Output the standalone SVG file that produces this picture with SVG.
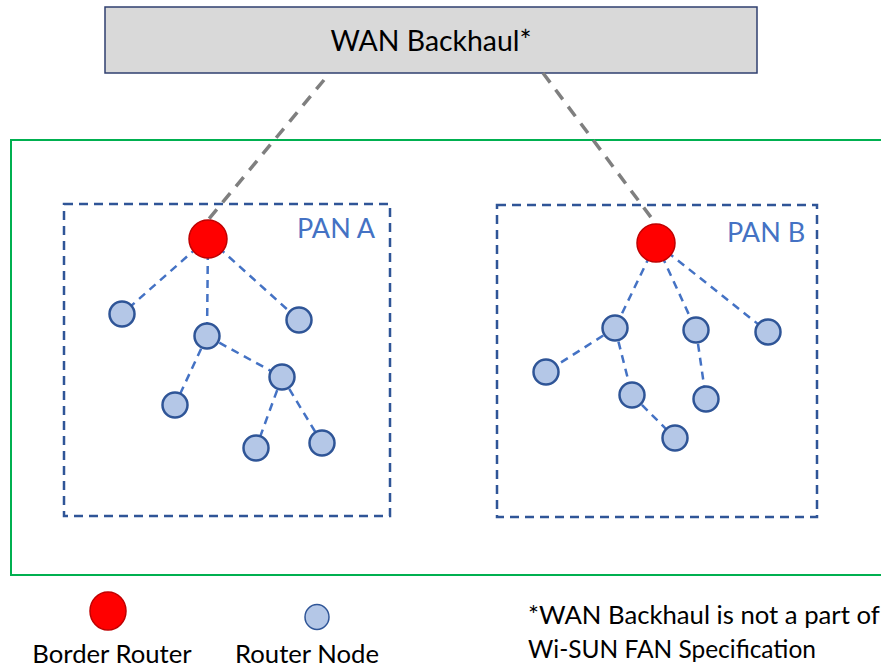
<svg xmlns="http://www.w3.org/2000/svg" width="881" height="668" viewBox="0 0 881 668">
<style>
text{font-family:Lato,"Open Sans","Liberation Sans",sans-serif}
.br{fill:#ff0000;stroke:#c00000;stroke-width:1.5}
.rn{fill:#b4c7e7;stroke:#2f5597;stroke-width:2.5}
.pan{fill:none;stroke:#2f5597;stroke-width:2.5;stroke-dasharray:9 6}
.edge{fill:none;stroke:#4472c4;stroke-width:2.5;stroke-dasharray:8 6}
.wan{fill:none;stroke:#7f7f7f;stroke-width:3.5;stroke-dasharray:12 9}
.lbl{fill:#4472c4;font-size:27px}
.blk{fill:#000;font-size:25.7px}
</style>
<rect width="881" height="668" fill="#fff"/>
<g id="fan">
<rect x="11" y="140" width="880" height="435" fill="none" stroke="#00b050" stroke-width="2"/>
</g>
<g id="wan-backhaul">
<rect x="105" y="7" width="652" height="66" fill="#d9d9d9" stroke="#2f3f6f" stroke-width="1.5"/>
<text x="431" y="51" text-anchor="middle" style="font-size:28.4px" fill="#000">WAN Backhaul*</text>
</g>
<g id="pan-a">
<rect class="pan" x="64" y="204" width="326" height="312"/>
<text class="lbl" x="297" y="238">PAN A</text>
</g>
<g id="pan-b">
<rect class="pan" x="497" y="205" width="320" height="312"/>
<text class="lbl" x="727" y="242">PAN B</text>
</g>
<g id="connectors">
<line class="wan" x1="324" y1="80" x2="208" y2="220"/>
<line class="wan" x1="543" y1="73" x2="656" y2="224"/>
<line class="edge" x1="208" y1="238" x2="122" y2="314"/>
<line class="edge" x1="208" y1="238" x2="207" y2="336"/>
<line class="edge" x1="208" y1="238" x2="299" y2="320"/>
<line class="edge" x1="207" y1="336" x2="175" y2="405"/>
<line class="edge" x1="207" y1="336" x2="282" y2="377"/>
<line class="edge" x1="282" y1="377" x2="256" y2="448"/>
<line class="edge" x1="282" y1="377" x2="322" y2="443"/>
<line class="edge" x1="656" y1="243" x2="615" y2="328"/>
<line class="edge" x1="656" y1="243" x2="696" y2="330"/>
<line class="edge" x1="656" y1="243" x2="768" y2="332"/>
<line class="edge" x1="615" y1="328" x2="546" y2="372"/>
<line class="edge" x1="615" y1="328" x2="632" y2="395"/>
<line class="edge" x1="632" y1="395" x2="675" y2="438"/>
<line class="edge" x1="696" y1="330" x2="706" y2="399"/>
</g>
<g id="br-a"><circle class="br" cx="208" cy="239" r="19"/></g>
<g id="rn-a1"><circle class="rn" cx="122" cy="314" r="12.5"/></g>
<g id="rn-a2"><circle class="rn" cx="207" cy="336" r="12.5"/></g>
<g id="rn-a3"><circle class="rn" cx="299" cy="320" r="12.5"/></g>
<g id="rn-a4"><circle class="rn" cx="282" cy="377" r="12.5"/></g>
<g id="rn-a5"><circle class="rn" cx="175" cy="405" r="12.5"/></g>
<g id="rn-a6"><circle class="rn" cx="256" cy="448" r="12.5"/></g>
<g id="rn-a7"><circle class="rn" cx="322" cy="443" r="12.5"/></g>
<g id="br-b"><circle class="br" cx="656" cy="243" r="19"/></g>
<g id="rn-b1"><circle class="rn" cx="615" cy="328" r="12.5"/></g>
<g id="rn-b2"><circle class="rn" cx="696" cy="330" r="12.5"/></g>
<g id="rn-b3"><circle class="rn" cx="768" cy="332" r="12.5"/></g>
<g id="rn-b4"><circle class="rn" cx="546" cy="372" r="12.5"/></g>
<g id="rn-b5"><circle class="rn" cx="632" cy="395" r="12.5"/></g>
<g id="rn-b6"><circle class="rn" cx="706" cy="399" r="12.5"/></g>
<g id="rn-b7"><circle class="rn" cx="675" cy="438" r="12.5"/></g>
<g id="legend-br">
<ellipse class="br" cx="108" cy="611" rx="18" ry="19"/>
<text class="blk" x="112" y="663" text-anchor="middle">Border Router</text>
</g>
<g id="legend-rn">
<ellipse class="rn" cx="317" cy="617" rx="12" ry="12.5" style="stroke-width:1.5"/>
<text class="blk" x="307" y="663" text-anchor="middle">Router Node</text>
</g>
<g id="note">
<text class="blk" x="528" y="624">*WAN Backhaul is not a part of</text>
<text class="blk" x="528" y="658" textLength="288" lengthAdjust="spacingAndGlyphs">Wi-SUN FAN Specification</text>
</g>
</svg>
